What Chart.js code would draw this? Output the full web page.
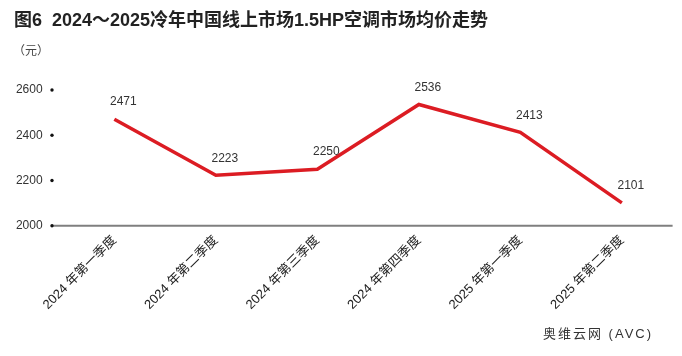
<!DOCTYPE html>
<html><head><meta charset="utf-8">
<script src="https://cdn.jsdelivr.net/npm/chart.js@4/dist/chart.umd.min.js"></script>
<style>
html,body{margin:0;padding:0;background:#fff;}
#wrap{position:relative;width:682px;height:356px;overflow:hidden;background:#fff;}
#c{position:absolute;left:0;top:0;}
.t{position:absolute;white-space:nowrap;font-family:"Liberation Sans","Noto Sans CJK SC",sans-serif;}
</style></head><body>
<div id="wrap">
<canvas id="c" width="682" height="356"></canvas>
<div class="t" id="title" style="left:14px;top:5px;font-size:18px;font-weight:bold;color:#222;">图6&nbsp; 2024～2025冷年中国线上市场1.5HP空调市场均价走势</div>
<div class="t" id="unit" style="left:13px;top:41px;font-size:12px;color:#444;">（元）</div>
<div class="t" id="src" style="left:543px;top:323px;font-size:13px;color:#333;letter-spacing:2px;">奥维云网 (AVC)</div>
</div>
<script>
const categories = ["2024 年第一季度","2024 年第二季度","2024 年第三季度","2024 年第四季度","2025 年第一季度","2025 年第二季度"];
const prices = [2471, 2223, 2250, 2536, 2413, 2101];
const yTicks = [2000, 2200, 2400, 2600];

const FONT = '"Liberation Sans","Noto Sans CJK SC",sans-serif';

const decor = {
  id: 'decor',
  afterDatasetsDraw(chart) {
    const ctx = chart.ctx;
    const y = chart.scales.y;
    const area = chart.chartArea;
    const dotX = 52;
    ctx.save();
    const by = y.getPixelForValue(yTicks[0]);
    ctx.strokeStyle = '#7f7f7f';
    ctx.lineWidth = 2;
    ctx.beginPath();
    ctx.moveTo(dotX, by);
    ctx.lineTo(area.right, by);
    ctx.stroke();
    ctx.fillStyle = '#111';
    yTicks.forEach(v => {
      ctx.beginPath();
      ctx.arc(dotX, y.getPixelForValue(v), 1.7, 0, Math.PI * 2);
      ctx.fill();
    });
    const meta = chart.getDatasetMeta(0);
    ctx.font = '12px ' + FONT;
    ctx.fillStyle = '#333';
    ctx.textAlign = 'center';
    ctx.textBaseline = 'middle';
    meta.data.forEach((pt, i) => {
      ctx.fillText(String(prices[i]), pt.x + 9, pt.y - 17);
    });
    ctx.restore();
  }
};

new Chart(document.getElementById('c'), {
  type: 'line',
  data: {
    labels: categories,
    datasets: [{
      data: prices,
      borderColor: '#DC1C23',
      borderWidth: 3.5,
      pointRadius: 0,
      tension: 0,
      fill: false,
      clip: false
    }]
  },
  options: {
    responsive: false,
    animation: false,
    devicePixelRatio: 1,
    layout: { padding: { top: 90, right: 9.4, bottom: 0, left: 0 } },
    plugins: { legend: { display: false }, tooltip: { enabled: false } },
    scales: {
      x: {
        type: 'category',
        offset: true,
        grid: { display: false, drawTicks: false },
        border: { display: false },
        ticks: {
          autoSkip: false,
          maxRotation: 45,
          minRotation: 45,
          padding: 7,
          color: '#222',
          font: { size: 13, family: FONT }
        },
        afterFit(s) { s.height = 130.3; }
      },
      y: {
        min: 2000, max: 2600,
        grid: { display: false, drawTicks: false },
        border: { display: false },
        afterBuildTicks(s) { s.ticks = yTicks.map(v => ({ value: v })); },
        ticks: {
          padding: 21,
          color: '#333',
          font: { size: 12, family: FONT },
          callback: (v) => String(v)
        },
        afterFit(s) { s.width = 63.6; }
      }
    }
  },
  plugins: [decor]
});
</script>
</body></html>
